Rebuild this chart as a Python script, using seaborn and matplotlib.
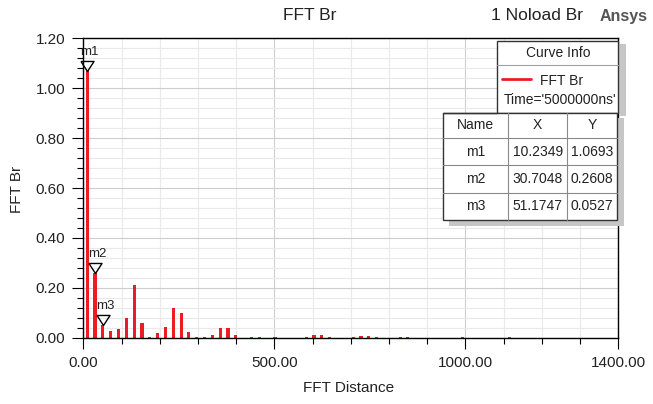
import numpy as np
import seaborn as sns
import matplotlib.pyplot as plt
import matplotlib.transforms as mtransforms
from matplotlib.patches import Rectangle

sns.set_style("white")
plt.rcParams["font.family"] = ["Liberation Sans", "DejaVu Sans"]

# FFT spectrum (odd harmonics)
freq = [10.2349, 30.7048, 51.1747, 71.64, 92.11, 112.58, 133.05, 153.52, 173.99,
        194.46, 214.93, 235.40, 255.87, 276.34, 296.81, 317.28, 337.75, 358.22,
        378.69, 399.16, 440.10, 460.57, 501.51, 583.39, 603.86, 624.33, 644.80,
        706.21, 726.68, 747.15, 767.62, 829.03, 849.50, 992.79, 1115.60]
br = [1.0693, 0.2608, 0.0527, 0.028, 0.033, 0.079, 0.213, 0.059, 0.004,
      0.019, 0.044, 0.119, 0.099, 0.024, 0.003, 0.003, 0.009, 0.039,
      0.039, 0.009, 0.003, 0.003, 0.003, 0.003, 0.012, 0.012, 0.003,
      0.003, 0.008, 0.008, 0.003, 0.003, 0.003, 0.003, 0.003]

marker_names = ["m1", "m2", "m3"]
marker_x = [10.2349, 30.7048, 51.1747]
marker_y = [1.0693, 0.2608, 0.0527]

x_major = [0, 500, 1000, 1400]
y_major = [0.0, 0.2, 0.4, 0.6, 0.8, 1.0, 1.2]

W, H = 653, 404
fig = plt.figure(figsize=(W / 100, H / 100), dpi=100)
L, R, T, B = 83.3, 618.3, 38.3, 337.7
ax = fig.add_axes([L / W, 1 - B / H, (R - L) / W, (B - T) / H])

sns.barplot(x=freq, y=br, native_scale=True, width=0.4, color="#ed1c24",
            saturation=1, errorbar=None, linewidth=0, ax=ax)

ax.set_xlim(0, 1400)
ax.set_ylim(0, 1.2)
ax.set_xticks(x_major)
ax.set_xticklabels([f"{v:.2f}" for v in x_major])
ax.set_xticks(np.arange(0, 1401, 100), minor=True)
ax.set_yticks(y_major)
ax.set_yticklabels([f"{v:.2f}" for v in y_major])
ax.set_yticks(np.arange(0, 1.201, 0.04), minor=True)
ax.tick_params(which="major", length=8, width=0.8, direction="out",
               color="black", labelsize=11, pad=5, labelcolor="#222222")
ax.tick_params(which="minor", length=4, width=0.8, direction="out", color="black")
ax.tick_params(axis="x", which="both", bottom=True)
ax.tick_params(axis="y", which="both", left=True)
ax.grid(which="minor", color="#e9e9e9", linewidth=0.8)
ax.grid(which="major", color="#cdcdcd", linewidth=0.8)
ax.set_axisbelow(True)
for s in ax.spines.values():
    s.set_color("black")
    s.set_linewidth(1.0)
ax.set_xlabel("")
ax.set_ylabel("")

# markers
tri = [(-0.65, 0.5), (0.65, 0.5), (0.0, -0.5), (-0.65, 0.5)]
ms = 9.4
off = mtransforms.offset_copy(ax.transData, fig=fig, y=ms * 0.5 / 0.65 * 0.5, units="points")
for name, mx, my in zip(marker_names, marker_x, marker_y):
    ax.plot([mx], [my], marker=tri, ms=ms, mfc="none", mec="black", mew=1.0,
            linestyle="none", transform=off, clip_on=False, zorder=5)
    ax.annotate(name, (mx, my), xytext=(-4.8, 11.5), textcoords="offset points",
                ha="left", va="baseline", fontsize=9.5, color="#222222",
                annotation_clip=False, zorder=6)

# overlay in pixel coordinates
ov = fig.add_axes([0, 0, 1, 1])
ov.set_xlim(0, W)
ov.set_ylim(H, 0)
ov.axis("off")
ov.patch.set_alpha(0)

fig.text(310 / W, 1 - 16 / H, "FFT Br", ha="center", va="center", fontsize=12.5, color="#222222")
fig.text(537 / W, 1 - 16 / H, "1 Noload Br", ha="center", va="center", fontsize=12.5, color="#222222")
fig.text(624 / W, 1 - 16 / H, "Ansys", ha="center", va="center", fontsize=11.5,
         fontweight="bold", color="#555555")
fig.text(349 / W, 1 - 388 / H, "FFT Distance", ha="center", va="center", fontsize=11, color="#222222")
fig.text(17 / W, 1 - 189 / H, "FFT Br", ha="center", va="center", fontsize=11,
         rotation=90, color="#222222")

shadow = "#c6c6c6"
# Curve Info box
ov.add_patch(Rectangle((618.5, 44), 7, 72, facecolor=shadow, edgecolor="none"))
ov.add_patch(Rectangle((496.5, 40.5), 121.5, 72.5, facecolor="white", edgecolor="#333333", lw=1.0))
ov.plot([496.5, 618], [65, 65], color="#a0a0a0", lw=0.8)
ov.text(558, 53, "Curve Info", ha="center", va="center", fontsize=10, color="#222222")
ov.plot([502, 531], [79, 79], color="#ed1c24", lw=2)
ov.text(562, 81, "FFT Br", ha="center", va="center", fontsize=10, color="#222222")
ov.text(560, 100.5, "Time='5000000ns'", ha="center", va="center", fontsize=10, color="#222222")

# marker table
ov.add_patch(Rectangle((617, 118), 7, 108, facecolor=shadow, edgecolor="none"))
ov.add_patch(Rectangle((449, 220), 175, 6, facecolor=shadow, edgecolor="none"))
tl, tr, tt, tb = 442.5, 616.5, 112.5, 220
ov.add_patch(Rectangle((tl, tt), tr - tl, tb - tt, facecolor="white", edgecolor="#333333", lw=1.0))
col_edges = [tl, 508.3, 567.3, tr]
row_edges = [tt, 138.3, 165, 192.5, tb]
for cx in col_edges[1:-1]:
    ov.plot([cx, cx], [tt, tb], color="#8a8a8a", lw=0.8)
for ry in row_edges[1:-1]:
    ov.plot([tl, tr], [ry, ry], color="#8a8a8a", lw=0.8)
ov.plot([tl, 496.5], [tt, tt], color="#333333", lw=1.0)
header = ["Name", "X", "Y"]
rows = [header] + [[n, f"{x:.4f}", f"{y:.4f}"] for n, x, y in zip(marker_names, marker_x, marker_y)]
for i, row in enumerate(rows):
    cy = (row_edges[i] + row_edges[i + 1]) / 2
    for j, txt in enumerate(row):
        cx = (col_edges[j] + col_edges[j + 1]) / 2
        ov.text(cx, cy, txt, ha="center", va="center", fontsize=10, color="#222222")

fig.savefig("out.png", dpi=100)
